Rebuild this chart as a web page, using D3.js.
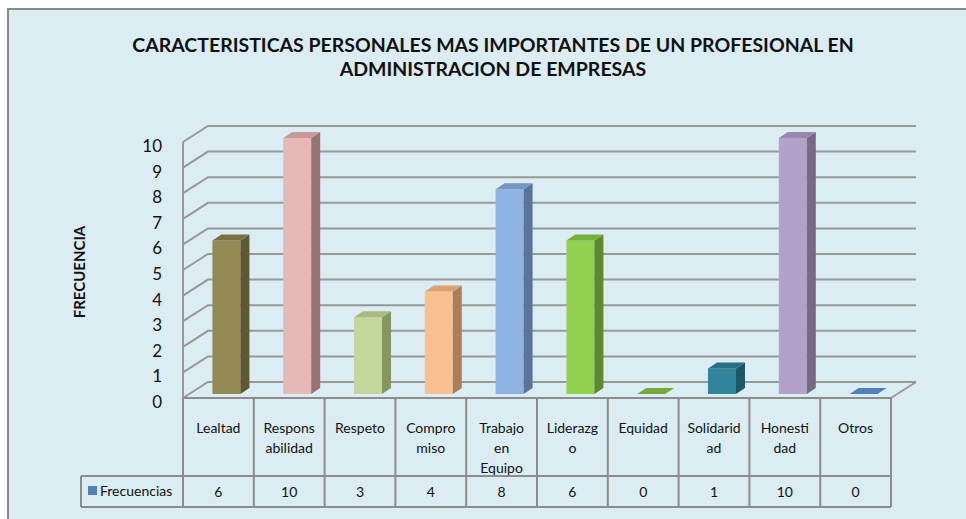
<!DOCTYPE html>
<html>
<head>
<meta charset="utf-8">
<script src="https://cdn.jsdelivr.net/npm/d3@7"></script>
<style>
  body { margin: 0; background: #fff; }
  svg { display: block; font-family: Lato, "Open Sans", sans-serif; }
</style>
</head>
<body>
<div class="outer-container"></div>
<script>
const categories = ['Lealtad', 'Responsabilidad', 'Respeto', 'Compromiso', 'Trabajo en Equipo',
                    'Liderazgo', 'Equidad', 'Solidaridad', 'Honestidad', 'Otros']
// wrapped the way the table cells show them
const labelLines = [['Lealtad'], ['Respons', 'abilidad'], ['Respeto'], ['Compro', 'miso'],
                    ['Trabajo', 'en', 'Equipo'], ['Liderazg', 'o'], ['Equidad'],
                    ['Solidarid', 'ad'], ['Honesti', 'dad'], ['Otros']]
const frecuencias = [6, 10, 3, 4, 8, 6, 0, 1, 10, 0]
const yTicks = [0, 1, 2, 3, 4, 5, 6, 7, 8, 9, 10]
const seriesName = 'Frecuencias'
const titleLines = ['CARACTERISTICAS PERSONALES MAS IMPORTANTES DE UN PROFESIONAL EN',
                    'ADMINISTRACION DE EMPRESAS']

// front, side, top
const palette = [
  ['#948a54', '#5e5833', '#7b7243'],
  ['#e6b9b8', '#967473', '#c99a99'],
  ['#c3d69b', '#879763', '#a8ba80'],
  ['#fac090', '#ad7f58', '#e0a070'],
  ['#8db3e2', '#5a7497', '#7597c6'],
  ['#92d050', '#5d8a2f', '#78b040'],
  ['#77a83a', '#5d8a2f', '#77a83a'],
  ['#31849b', '#1f5664', '#2a7085'],
  ['#b3a2c7', '#766a85', '#9888ad'],
  ['#4f81bd', '#2f5588', '#3f6aa5']
]

const w = 966
const h = 519
const depthX = 25
const depthY = -16
const barW = 28
const barDX = 9
const barDY = -6
const gridColor = '#989898'

const svg = d3.select('.outer-container')
              .append('svg')
              .attr('width', w)
              .attr('height', h)

svg.append('rect')
   .attr('x', 8).attr('y', 9)
   .attr('width', 980).attr('height', 540)
   .attr('fill', '#dbedf3')
   .attr('stroke', '#8a8a8a')
   .attr('stroke-width', 2)

const xScale = d3.scaleBand()
                 .domain(categories)
                 .range([183, 891])

const yScale = d3.scaleLinear()
                 .domain([0, 10])
                 .range([398, 142])

// title
svg.append('g')
   .selectAll('text')
   .data(titleLines)
   .enter()
   .append('text')
   .attr('x', 493)
   .attr('y', (d, i) => 52 + i * 24)
   .attr('text-anchor', 'middle')
   .attr('font-weight', 'bold')
   .attr('font-size', 19.5)
   .attr('fill', '#111')
   .text(d => d)

// axis title
svg.append('text')
   .attr('transform', 'translate(85, 272) rotate(-90)')
   .attr('text-anchor', 'middle')
   .attr('font-weight', 'bold')
   .attr('font-size', 15)
   .attr('fill', '#111')
   .text('FRECUENCIA')

// walls: side wall diagonals + back wall lines
const x0 = xScale.range()[0]
const x1 = xScale.range()[1]
const grid = svg.append('g')
                .attr('fill', 'none')
                .attr('stroke', gridColor)
                .attr('stroke-width', 2)

grid.selectAll('path.gl')
    .data(yTicks)
    .enter()
    .append('path')
    .attr('class', 'gl')
    .attr('d', d => 'M' + x0 + ',' + yScale(d) + 'L' + (x0 + depthX) + ',' + (yScale(d) + depthY) +
                    'H' + (x1 + depthX))

grid.append('path')
    .attr('d', 'M' + x0 + ',' + yScale(10) + 'V' + yScale(0))
grid.append('path')
    .attr('d', 'M' + x1 + ',' + yScale(0) + 'L' + (x1 + depthX) + ',' + (yScale(0) + depthY))

// y tick labels
svg.append('g')
   .selectAll('text')
   .data(yTicks)
   .enter()
   .append('text')
   .attr('x', 162)
   .attr('y', d => yScale(d) + 10)
   .attr('text-anchor', 'end')
   .attr('font-size', 17)
   .attr('fill', '#111')
   .text(d => d)

// bars
const offX = 8
const offY = -4
const bx = i => xScale(categories[i]) + xScale.bandwidth() / 2 - barW / 2 + offX
const by = d => yScale(d) + offY
const base = yScale(0) + offY

svg.append('g')
   .selectAll('g')
   .data(frecuencias)
   .enter()
   .append('g')
   .each(function (d, i) {
     const g = d3.select(this)
     const x = bx(i)
     const t = by(d)
     const c = palette[i]
     if (d > 0) {
       g.append('rect')
        .attr('x', x)
        .attr('y', t)
        .attr('width', barW)
        .attr('height', base - t)
        .attr('fill', c[0])
       g.append('polygon')
        .attr('points', [[x + barW, t], [x + barW + barDX, t + barDY],
                         [x + barW + barDX, base + barDY], [x + barW, base]].join(' '))
        .attr('fill', c[1])
     }
     g.append('polygon')
      .attr('points', [[x, t], [x + barDX, t + barDY], [x + barW + barDX, t + barDY], [x + barW, t]].join(' '))
      .attr('fill', d > 0 ? c[2] : c[0])
   })

// data table
const tTop = yScale(0)
const rowMid = 476
const tBot = 507
const legendX = 81
const table = svg.append('g')
                 .attr('fill', 'none')
                 .attr('stroke', '#8c8c8c')
                 .attr('stroke-width', 2)

table.selectAll('line.v')
     .data(categories.concat([null]))
     .enter()
     .append('line')
     .attr('class', 'v')
     .attr('x1', (d, i) => x0 + i * xScale.bandwidth())
     .attr('x2', (d, i) => x0 + i * xScale.bandwidth())
     .attr('y1', tTop)
     .attr('y2', tBot)

table.append('path')
     .attr('d', 'M' + x0 + ',' + tTop + 'H' + x1 +
                'M' + legendX + ',' + rowMid + 'H' + x1 +
                'M' + legendX + ',' + tBot + 'H' + x1 +
                'M' + legendX + ',' + rowMid + 'V' + tBot)

const cells = svg.append('g')
                 .attr('font-size', 14)
                 .attr('fill', '#111')
                 .attr('text-anchor', 'middle')

cells.selectAll('text.cat')
     .data(labelLines)
     .enter()
     .append('text')
     .attr('class', 'cat')
     .attr('x', (d, i) => xScale(categories[i]) + xScale.bandwidth() / 2)
     .attr('y', 433)
     .selectAll('tspan')
     .data(d => d)
     .enter()
     .append('tspan')
     .attr('x', function () { return this.parentNode.getAttribute('x') })
     .attr('dy', (d, i) => i === 0 ? 0 : 20)
     .text(d => d)

cells.selectAll('text.val')
     .data(frecuencias)
     .enter()
     .append('text')
     .attr('class', 'val')
     .attr('x', (d, i) => xScale(categories[i]) + xScale.bandwidth() / 2)
     .attr('y', 497)
     .text(d => d)

svg.append('rect')
   .attr('x', 88).attr('y', 486)
   .attr('width', 9).attr('height', 9)
   .attr('fill', '#4f81bd')

svg.append('text')
   .attr('x', 100)
   .attr('y', 496)
   .attr('font-size', 14)
   .attr('fill', '#111')
   .text(seriesName)
</script>
</body>
</html>
